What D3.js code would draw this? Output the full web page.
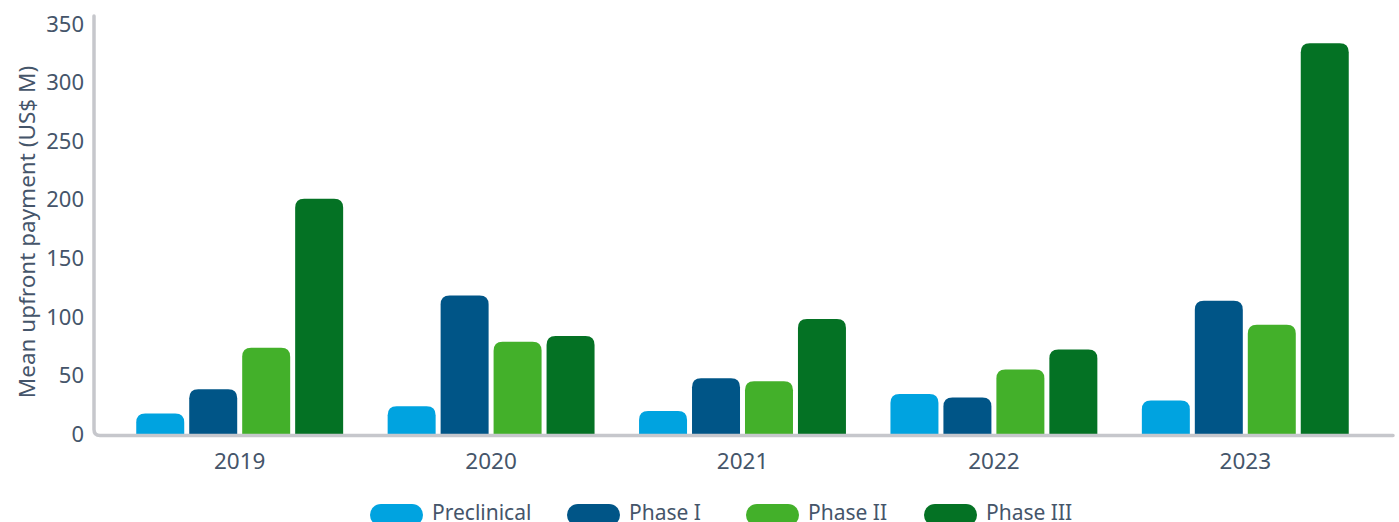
<!DOCTYPE html>
<html>
<head>
<meta charset="utf-8">
<script src="https://cdn.jsdelivr.net/npm/d3@7"></script>
<style>
  html, body { margin: 0; padding: 0; background: #ffffff; }
  svg { display: block; font-family: "Noto Sans", "Open Sans", sans-serif; }
</style>
</head>
<body>
<svg id="chart" width="1399" height="522"></svg>
<script>
// Mean upfront payment by development phase, 2019–2023 (US$ M)
const years = ["2019", "2020", "2021", "2022", "2023"];
const phases = ["Preclinical", "Phase I", "Phase II", "Phase III"];
const preclinical = [18, 24, 20, 34.5, 29];
const phase1 = [38.5, 118.5, 48, 31.5, 114];
const phase2 = [74, 79, 45.5, 55.5, 93.5];
const phase3 = [201, 84, 98.5, 72.5, 333.5];
const yTicks = [0, 50, 100, 150, 200, 250, 300, 350];
const colors = ["#00a3e0", "#005587", "#43b02a", "#047224"];

const seriesValues = [preclinical, phase1, phase2, phase3];
const rows = years.map((y, i) => ({
  year: y,
  values: phases.map((p, j) => ({ phase: p, value: seriesValues[j][i] }))
}));

const svg = d3.select("#chart");
const textColor = "#45556a";
const axisColor = "#c6c7cc";

const x0 = d3.scaleBand().domain(years).range([114, 1371])
  .paddingInner(0.177).paddingOuter(0.0885);
const x1 = d3.scaleBand().domain(phases).range([0, x0.bandwidth()])
  .paddingInner(0.094).paddingOuter(0);
const y = d3.scaleLinear().domain([0, 350]).range([434.5, 24]);
const color = d3.scaleOrdinal().domain(phases).range(colors);

// bar with rounded top corners
function topRounded(x, yTop, w, h, r) {
  r = Math.min(r, w / 2, h);
  return `M${x},${yTop + h}V${yTop + r}Q${x},${yTop} ${x + r},${yTop}` +
         `H${x + w - r}Q${x + w},${yTop} ${x + w},${yTop + r}V${yTop + h}Z`;
}

const groups = svg.append("g").selectAll("g")
  .data(rows).join("g")
  .attr("transform", d => `translate(${x0(d.year)},0)`);

groups.selectAll("path")
  .data(d => d.values).join("path")
  .attr("d", d => topRounded(x1(d.phase), y(d.value), x1.bandwidth(), y(0) - y(d.value), 9))
  .attr("fill", d => color(d.phase));

// axis lines (L shape with rounded corner)
svg.append("path")
  .attr("d", `M94,16V${y(0) - 5}Q94,${y(0) + 1} 100,${y(0) + 1}H1393`)
  .attr("fill", "none")
  .attr("stroke", axisColor)
  .attr("stroke-width", 3.5)
  .attr("stroke-linecap", "round");

// y tick labels
const yAxis = svg.append("g")
  .attr("transform", "translate(94,0)")
  .call(d3.axisLeft(y).tickValues(yTicks).tickSize(0).tickPadding(10));
yAxis.select(".domain").remove();
yAxis.selectAll("text")
  .attr("fill", textColor)
  .style("font-size", "22px")
  .style("font-family", "'Noto Sans', sans-serif");

// x tick labels
const xAxis = svg.append("g")
  .attr("transform", `translate(0,${y(0)})`)
  .call(d3.axisBottom(x0).tickSize(0).tickPadding(19));
xAxis.select(".domain").remove();
xAxis.selectAll("text")
  .attr("fill", textColor)
  .style("font-size", "22.5px")
  .style("font-family", "'Noto Sans', sans-serif");

// y axis title
svg.append("text")
  .attr("transform", "translate(29,232) rotate(-90)")
  .attr("text-anchor", "middle")
  .attr("dominant-baseline", "middle")
  .attr("fill", textColor)
  .style("font-size", "22.5px")
  .text("Mean upfront payment (US$ M)");

// legend
const legendX = [370, 567, 746, 924];
const legend = svg.append("g").selectAll("g")
  .data(phases).join("g")
  .attr("transform", (d, i) => `translate(${legendX[i]},515)`);
legend.append("rect")
  .attr("x", 0).attr("y", -11)
  .attr("width", 53).attr("height", 22)
  .attr("rx", 11)
  .attr("fill", d => color(d));
legend.append("text")
  .attr("x", 62).attr("y", 5)
  .attr("fill", textColor)
  .style("font-size", "21px")
  .text(d => d);
</script>
</body>
</html>
